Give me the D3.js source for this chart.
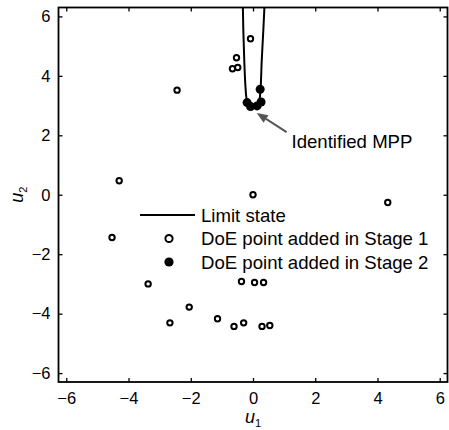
<!DOCTYPE html>
<html>
<head>
<meta charset="utf-8">
<script src="https://cdn.jsdelivr.net/npm/d3@7"></script>
<style>
  html, body { margin: 0; padding: 0; background: #fff; }
  svg { display: block; font-family: "Liberation Sans", Arial, sans-serif; }
</style>
</head>
<body>
<div id="chart"></div>
<script>
// stage 1 DoE points (open circles)
const stage1 = [
  [-0.08, 5.25], [-0.53, 4.61], [-0.66, 4.24], [-0.49, 4.28],
  [-2.44, 3.52], [-4.30, 0.47], [0.00, 0.00], [4.33, -0.26],
  [-4.53, -1.44], [-3.37, -3.00], [-0.37, -2.92], [0.05, -2.95],
  [0.34, -2.95], [-2.05, -3.78], [-2.67, -4.31], [-1.14, -4.17],
  [-0.61, -4.43], [-0.30, -4.31], [0.29, -4.43], [0.54, -4.40]
];
// stage 2 DoE points (filled)
const stage2 = [
  [0.23, 3.55], [-0.19, 3.10], [-0.08, 2.97], [0.13, 2.99], [0.26, 3.12]
];
// limit state curve
const limitU1 = [-0.33, -0.31, -0.28, -0.24, -0.20, -0.12, 0.00, 0.12, 0.20, 0.24, 0.28, 0.33, 0.38];
const limitU2 = [6.6, 5.5, 4.5, 3.6, 3.2, 2.99, 2.93, 2.97, 3.15, 3.5, 4.5, 5.5, 6.6];
const ticks = [-6, -4, -2, 0, 2, 4, 6];
const mppArrow = [[1.08, 2.11], [0.12, 2.75]];
const mppLabel = 'Identified MPP';
const legendItems = ['Limit state', 'DoE point added in Stage 1', 'DoE point added in Stage 2'];

const W = 449, H = 430;
const L = 58.5, R = 447.5, T = 7.5, B = 382;

const svg = d3.select('#chart').append('svg')
  .attr('width', W).attr('height', H);

const x = d3.scaleLinear().domain([-6.25, 6.25]).range([L, R]);
const y = d3.scaleLinear().domain([-6.3, 6.3]).range([B, T]);

svg.append('clipPath').attr('id', 'clip')
  .append('rect').attr('x', L).attr('y', T).attr('width', R - L).attr('height', B - T);

const fmt = d => d < 0 ? '\u2212' + Math.abs(d) : String(d);
const tickLen = 4;

// axes with inward ticks on all sides
const axB = svg.append('g').attr('transform', `translate(0,${B})`)
  .call(d3.axisBottom(x).tickValues(ticks).tickSizeInner(-tickLen).tickSizeOuter(0).tickPadding(10).tickFormat(fmt));
const axL = svg.append('g').attr('transform', `translate(${L},0)`)
  .call(d3.axisLeft(y).tickValues(ticks).tickSizeInner(-tickLen).tickSizeOuter(0).tickPadding(8).tickFormat(fmt));
const axT = svg.append('g').attr('transform', `translate(0,${T})`)
  .call(d3.axisTop(x).tickValues(ticks).tickSizeInner(-tickLen).tickSizeOuter(0).tickFormat(''));
const axR = svg.append('g').attr('transform', `translate(${R},0)`)
  .call(d3.axisRight(y).tickValues(ticks).tickSizeInner(-tickLen).tickSizeOuter(0).tickFormat(''));

[axB, axL, axT, axR].forEach(a => {
  a.select('.domain').remove();
  a.selectAll('line').attr('stroke', '#000').attr('stroke-width', 1.3);
  a.selectAll('text').attr('fill', '#000').style('font-size', '16.5px')
    .style('font-family', '"Liberation Sans", Arial, sans-serif');
});
axB.selectAll('text').attr('dy', '0.71em');

svg.append('rect').attr('x', L).attr('y', T).attr('width', R - L).attr('height', B - T)
  .attr('fill', 'none').attr('stroke', '#000').attr('stroke-width', 1.8);

// axis labels
const xl = svg.append('text').attr('x', x(0)).attr('y', 423).attr('text-anchor', 'middle').style('font-size', '18px');
xl.append('tspan').style('font-style', 'italic').text('u');
xl.append('tspan').attr('dy', 4).style('font-size', '11px').text('1');

const yl = svg.append('text').attr('transform', `translate(23,${y(0)}) rotate(-90)`).attr('text-anchor', 'middle').style('font-size', '18px');
yl.append('tspan').style('font-style', 'italic').text('u');
yl.append('tspan').attr('dy', 4).style('font-size', '11px').text('2');

// limit state
const plot = svg.append('g').attr('clip-path', 'url(#clip)');
const curve = limitU1.map((u, i) => [u, limitU2[i]]);
plot.append('path').datum(curve)
  .attr('d', d3.line().x(d => x(d[0])).y(d => y(d[1])).curve(d3.curveCatmullRom.alpha(0.5)))
  .attr('fill', 'none').attr('stroke', '#000').attr('stroke-width', 2);

plot.selectAll('circle.s1').data(stage1).join('circle').attr('class', 's1')
  .attr('cx', d => x(d[0])).attr('cy', d => y(d[1])).attr('r', 2.7)
  .attr('fill', '#fff').attr('stroke', '#000').attr('stroke-width', 2);

plot.selectAll('circle.s2').data(stage2).join('circle').attr('class', 's2')
  .attr('cx', d => x(d[0])).attr('cy', d => y(d[1])).attr('r', 4.5)
  .attr('fill', '#000');

// MPP annotation
const [ax0, ay0] = [x(mppArrow[0][0]), y(mppArrow[0][1])];
const [ax1, ay1] = [x(mppArrow[1][0]), y(mppArrow[1][1])];
const ang = Math.atan2(ay1 - ay0, ax1 - ax0);
const hl = 11, hw = 4.5;
const bx = ax1 - hl * Math.cos(ang), by = ay1 - hl * Math.sin(ang);
svg.append('line').attr('x1', ax0).attr('y1', ay0).attr('x2', bx).attr('y2', by)
  .attr('stroke', '#555').attr('stroke-width', 2);
svg.append('polygon')
  .attr('points', [
    [ax1, ay1],
    [bx + hw * Math.sin(ang), by - hw * Math.cos(ang)],
    [bx - hw * Math.sin(ang), by + hw * Math.cos(ang)]
  ].map(p => p.join(',')).join(' '))
  .attr('fill', '#555');
svg.append('text').attr('x', 291.5).attr('y', 141).attr('dy', '0.35em')
  .style('font-size', '18.6px').text(mppLabel);

// legend
const lg = svg.append('g');
const lx = 201, ly0 = 215, lstep = 23.5;
lg.append('line').attr('x1', 140).attr('x2', 195).attr('y1', ly0).attr('y2', ly0)
  .attr('stroke', '#000').attr('stroke-width', 2);
lg.append('circle').attr('cx', 169).attr('cy', ly0 + lstep).attr('r', 3.6)
  .attr('fill', '#fff').attr('stroke', '#000').attr('stroke-width', 2);
lg.append('circle').attr('cx', 169).attr('cy', ly0 + 2 * lstep).attr('r', 4.6).attr('fill', '#000');
legendItems.forEach((t, i) => {
  lg.append('text').attr('x', lx).attr('y', ly0 + i * lstep).attr('dy', '0.35em')
    .style('font-size', '18.6px').text(t);
});
</script>
</body>
</html>
